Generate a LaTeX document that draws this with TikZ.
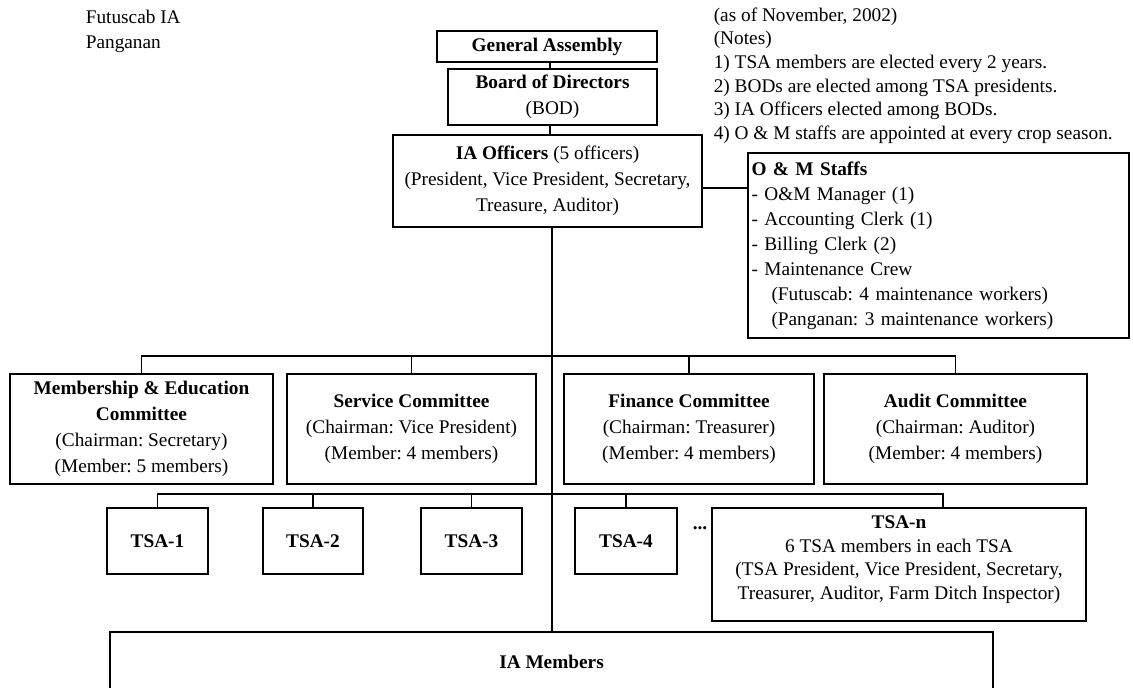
\documentclass[tikz,border=0pt]{standalone}
\usepackage{fontspec}
\setmainfont{Liberation Serif}
\usetikzlibrary{calc}
\newcommand\boxfont{\frenchspacing\fontsize{9.65pt}{13pt}\selectfont}
\newcommand\stafffont{\frenchspacing\fontsize{9.65pt}{12.5pt}\selectfont}
\newcommand\notefont{\frenchspacing\fontsize{9.65pt}{11.8pt}\selectfont}
\begin{document}
\begin{tikzpicture}[x=0.5pt,y=-0.5pt,
  line width=0.8pt,
  orgbox/.style={draw, line width=0.8pt, inner sep=0pt, align=center, font=\boxfont},
  size/.style 2 args={minimum width=#1*0.5pt, minimum height=#2*0.5pt},
  plain/.style={inner sep=0pt, align=left, font=\notefont},
]
\useasboundingbox (0,0) rectangle (1133,688);
\clip (0,0) rectangle (1133,688);

% header texts
\node[plain, anchor=north west, font=\stafffont] (site) at (85,9) {Futuscab IA\\Panganan};
\node[plain, anchor=north west] (notes) at (713,7) {(as of November, 2002)\\(Notes)\\1) TSA members are elected every 2 years.\\2) BODs are elected among TSA presidents.\\3) IA Officers elected among BODs.\\4) O \& M staffs are appointed at every crop season.};

% top of the hierarchy
\node[orgbox, size={220}{31}] (ga) at (547,46.5) {\textbf{General Assembly}};
\node[orgbox, size={209}{56}] (bod) at (552.5,97) {\textbf{Board of Directors}\\(BOD)};
\node[orgbox, size={309}{92}] (iao) at (547.5,181) {\textbf{IA Officers} (5 officers)\\(President, Vice President, Secretary,\\Treasure, Auditor)};
\node[orgbox, size={381}{185}, font=\stafffont, text width=187pt, align=left] (oms) at (938.5,245.5)
  {\textbf{O \& M Staffs}\\- O\&M Manager (1)\\- Accounting Clerk (1)\\- Billing Clerk (2)\\- Maintenance Crew\\\hspace*{10pt}(Futuscab: 4 maintenance workers)\\\hspace*{10pt}(Panganan: 3 maintenance workers)};

% committees
\node[orgbox, size={263}{110}] (mec) at (141.5,429) {\textbf{Membership \& Education}\\\textbf{Committee}\\(Chairman: Secretary)\\(Member: 5 members)};
\node[orgbox, size={249}{110}] (svc) at (411.5,429) {\textbf{Service Committee}\\(Chairman: Vice President)\\(Member: 4 members)};
\node[orgbox, size={250}{110}] (fin) at (689,429) {\textbf{Finance Committee}\\(Chairman: Treasurer)\\(Member: 4 members)};
\node[orgbox, size={263}{110}] (aud) at (955.5,429) {\textbf{Audit Committee}\\(Chairman: Auditor)\\(Member: 4 members)};

% turnout service areas
\node[orgbox, size={101}{66}] (t1) at (157.5,541) {\textbf{TSA-1}};
\node[orgbox, size={100}{66}] (t2) at (313,541) {\textbf{TSA-2}};
\node[orgbox, size={101}{66}] (t3) at (471.5,541) {\textbf{TSA-3}};
\node[orgbox, size={102}{66}] (t4) at (626,541) {\textbf{TSA-4}};
\node[font=\boxfont, inner sep=0pt, anchor=base] (dots) at (700,530) {\textbf{...}};
\node[orgbox, size={374}{113}] (tn) at (899,564.5) {};
\node[plain, align=center, anchor=north] (tntext) at ($(tn.north)+(0,8)$)
  {\textbf{TSA-n}\\6 TSA members in each TSA\\(TSA President, Vice President, Secretary,\\Treasurer, Auditor, Farm Ditch Inspector)};

% members
\node[orgbox, size={883}{59}] (mem) at (551.5,661.5) {\textbf{IA Members}};

% connectors
\coordinate (upspine) at (550,0);
\coordinate (lowspine) at (552,0);
\draw (upspine |- ga.south) -- (upspine |- bod.north);
\draw (upspine |- bod.south) -- (upspine |- iao.north);
\draw (lowspine |- iao.south) -- (lowspine |- mem.north);
\coordinate (staffrow) at (0,188);
\draw (iao.east |- staffrow) -- (oms.west |- staffrow);

\coordinate (cbus) at (0,356);
\draw (mec.north) -- (mec.north |- cbus) -- (aud.north |- cbus) -- (aud.north);
\draw (svc.north) -- (svc.north |- cbus);
\draw (fin.north) -- (fin.north |- cbus);

\coordinate (tbus) at (0,494);
\coordinate (tndrop) at ($(tn.north)+(44,0)$);
\draw (t1.north) -- (t1.north |- tbus) -- (tndrop |- tbus) -- (tndrop);
\draw (t2.north) -- (t2.north |- tbus);
\draw (t3.north) -- (t3.north |- tbus);
\draw (t4.north) -- (t4.north |- tbus);
\end{tikzpicture}
\end{document}
